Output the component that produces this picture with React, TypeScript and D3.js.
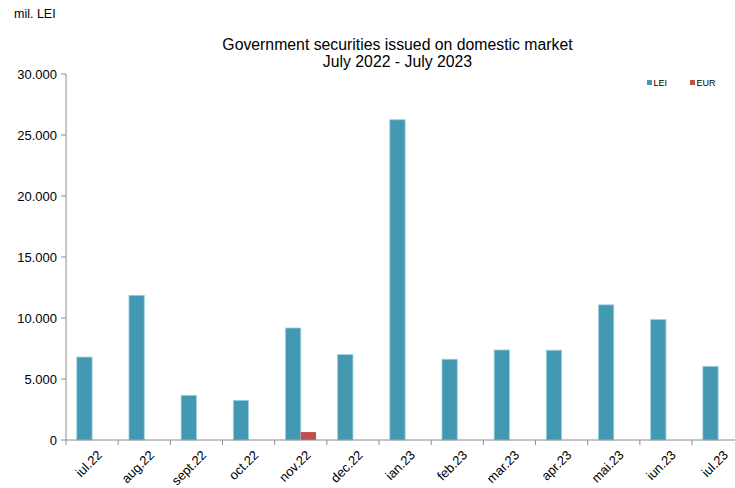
import React from "react";
import * as d3 from "d3";

const categories = ["iul.22", "aug.22", "sept.22", "oct.22", "nov.22", "dec.22", "ian.23", "feb.23", "mar.23", "apr.23", "mai.23", "iun.23", "iul.23"];
const leiValues = [6800, 11860, 3660, 3250, 9180, 7000, 26250, 6620, 7380, 7360, 11080, 9870, 6040];
const eurValues = [0, 0, 0, 0, 650, 0, 0, 0, 0, 0, 0, 0, 0];
const yTicks = [0, 5000, 10000, 15000, 20000, 25000, 30000];
const seriesNames = ["LEI", "EUR"];
const colors = ["#4399B1", "#C0504D"];

const W = 735, H = 488;
const left = 66, top = 74, bottom = 440;
const step = 52.17;

export default function App() {
  const x = d3.scaleBand<string>().domain(categories).range([left, left + step * categories.length]).paddingInner(0).paddingOuter(0);
  const y = d3.scaleLinear().domain([0, 30000]).range([bottom, top]);
  const fmt = (v: number) => d3.format(",")(v).replace(/,/g, ".");
  const bw = x.bandwidth();
  const barW = bw / (2 + 1.41);
  const sub = d3.scaleBand<number>().domain([0, 1]).range([0, barW * 2]);
  const groupOff = (bw - barW * 2) / 2;
  const series = [leiValues, eurValues];
  return (
    <svg width={W} height={H} style={{ position: "absolute", left: 0, top: 0, fontFamily: "Liberation Sans, Arial, sans-serif" }}>
      <rect width={W} height={H} fill="#fff" />
      <text x={14} y={18} fontSize={12.5} fill="#000">mil. LEI</text>
      <text x={397.5} y={50} fontSize={15.8} textAnchor="middle" fill="#000">Government securities issued on domestic market</text>
      <text x={397.5} y={67} fontSize={15.8} textAnchor="middle" fill="#000">July 2022 - July 2023</text>
      {/* bars */}
      {series.map((vals, si) =>
        vals.map((v, i) =>
          v > 0 ? (
            <rect key={si + "-" + i}
              x={(x(categories[i]) as number) + groupOff + (sub(si) as number)}
              y={y(v)} width={barW} height={y(0) - y(v)}
              fill={colors[si]} stroke={si === 0 ? "#9fd0de" : "none"} strokeWidth={0.8} />
          ) : null
        )
      )}
      {/* y axis */}
      <line x1={left} x2={left} y1={top} y2={bottom} stroke="#8c8c8c" strokeWidth={1} />
      {yTicks.map((t) => (
        <g key={t}>
          <line x1={left - 5} x2={left} y1={y(t)} y2={y(t)} stroke="#8c8c8c" />
          <text x={57} y={y(t) + 4.5} fontSize={13} textAnchor="end" fill="#000">{fmt(t)}</text>
        </g>
      ))}
      {/* x axis */}
      <line x1={left} x2={W} y1={bottom} y2={bottom} stroke="#8c8c8c" strokeWidth={1} />
      {categories.map((c) => (
        <line key={"t" + c} x1={x(c) as number} x2={x(c) as number} y1={bottom} y2={bottom + 5} stroke="#8c8c8c" />
      ))}
      {categories.map((c) => {
        const cx = (x(c) as number) + bw / 2 + 4;
        const cy = bottom + 9;
        return (
          <text key={"l" + c} x={cx} y={cy} fontSize={13} textAnchor="end" dominantBaseline="hanging"
            transform={`rotate(-45, ${cx}, ${cy})`} fill="#000">{c}</text>
        );
      })}
      {/* legend */}
      {seriesNames.map((n, i) => (
        <g key={n} transform={`translate(${647 + i * 43}, 0)`}>
          <rect x={0} y={80} width={5} height={5} fill={colors[i]} />
          <text x={6.5} y={86} fontSize={9} fill="#000">{n}</text>
        </g>
      ))}
    </svg>
  );
}
